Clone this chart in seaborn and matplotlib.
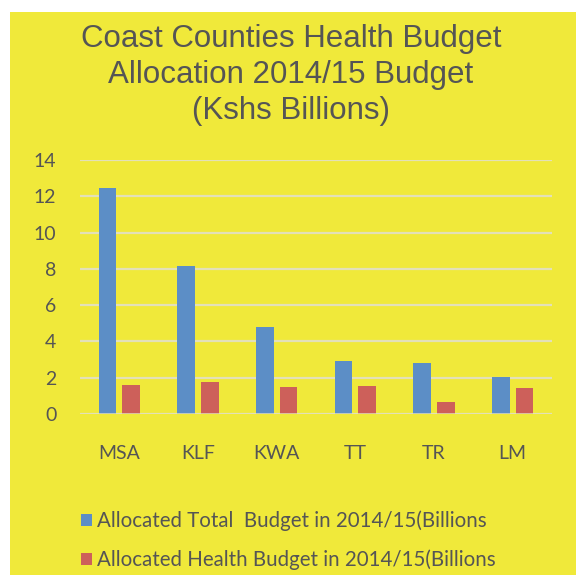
import matplotlib
matplotlib.use("Agg")
import matplotlib.pyplot as plt
import seaborn as sns
import pandas as pd
from matplotlib.patches import Rectangle

counties = ["MSA", "KLF", "KWA", "TT", "TR", "LM"]
total_budget = [12.45, 8.15, 4.8, 2.9, 2.8, 2.05]
health_budget = [1.6, 1.78, 1.5, 1.52, 0.65, 1.43]
series_names = ["Allocated Total  Budget in 2014/15(Billions",
                "Allocated Health Budget in 2014/15(Billions"]
title_text = "Coast Counties Health Budget\nAllocation 2014/15 Budget\n(Kshs Billions)"
yticks = [0, 2, 4, 6, 8, 10, 12, 14]

df = pd.DataFrame({
    "County": counties * 2,
    "Value": total_budget + health_budget,
    "Series": [series_names[0]] * len(counties) + [series_names[1]] * len(counties),
})

sns.set_theme(style="white")
plt.rcParams['font.family'] = ['Lato', 'DejaVu Sans']

YELLOW = "#F0E93A"
BLUE = "#5C8EC6"
RED = "#CD605A"
TXT = "#555555"
GRID = "#E3E0B8"

fig = plt.figure(figsize=(5.76, 5.75), dpi=100, facecolor="white")
fig.patches.append(Rectangle((10/576, 0), 1 - 10/576, 1 - 12/575,
                             transform=fig.transFigure, facecolor=YELLOW,
                             edgecolor="none", zorder=-10))
ax = fig.add_axes([80/576, 1 - 414/575, 472/576, (414 - 160)/575])
ax.set_facecolor("none")
ax.set_zorder(2)

sns.barplot(data=df, x="County", y="Value", hue="Series", order=counties,
            palette=[BLUE, RED], width=0.6, gap=0.25, ax=ax,
            saturation=1, legend=True, linewidth=0)

ax.set_ylim(0, 14)
ax.set_xlim(-0.5, len(counties) - 0.5)
ax.set_yticks(yticks)
ax.yaxis.grid(True, color=GRID, linewidth=1.6)
ax.set_axisbelow(True)
for s in ["top", "right", "left", "bottom"]:
    ax.spines[s].set_visible(False)
ax.axhline(0, color=GRID, linewidth=1.8, zorder=1)
ax.set_xlabel("")
ax.set_ylabel("")
ax.tick_params(axis="y", length=0, pad=17, labelsize=14, labelcolor=TXT)
ax.tick_params(axis="x", length=0, pad=22, labelsize=14, labelcolor=TXT)

h, l = ax.get_legend_handles_labels()
ax.legend_.remove()
leg = fig.legend(h, l, loc="upper left", bbox_to_anchor=(62/576, 1 - 492/575),
                 frameon=False, fontsize=14.8, labelcolor=TXT, handlelength=0.55,
                 handleheight=0.55, handletextpad=0.25, labelspacing=0.9)
leg.set_zorder(3)

fig.text(0.505, 1 - 24/575, title_text, ha="center", va="top",
         fontsize=22.5, color=TXT, family=["Liberation Sans", "DejaVu Sans"],
         linespacing=1.27, zorder=3)

fig.savefig("out.png", dpi=100, facecolor="white")
